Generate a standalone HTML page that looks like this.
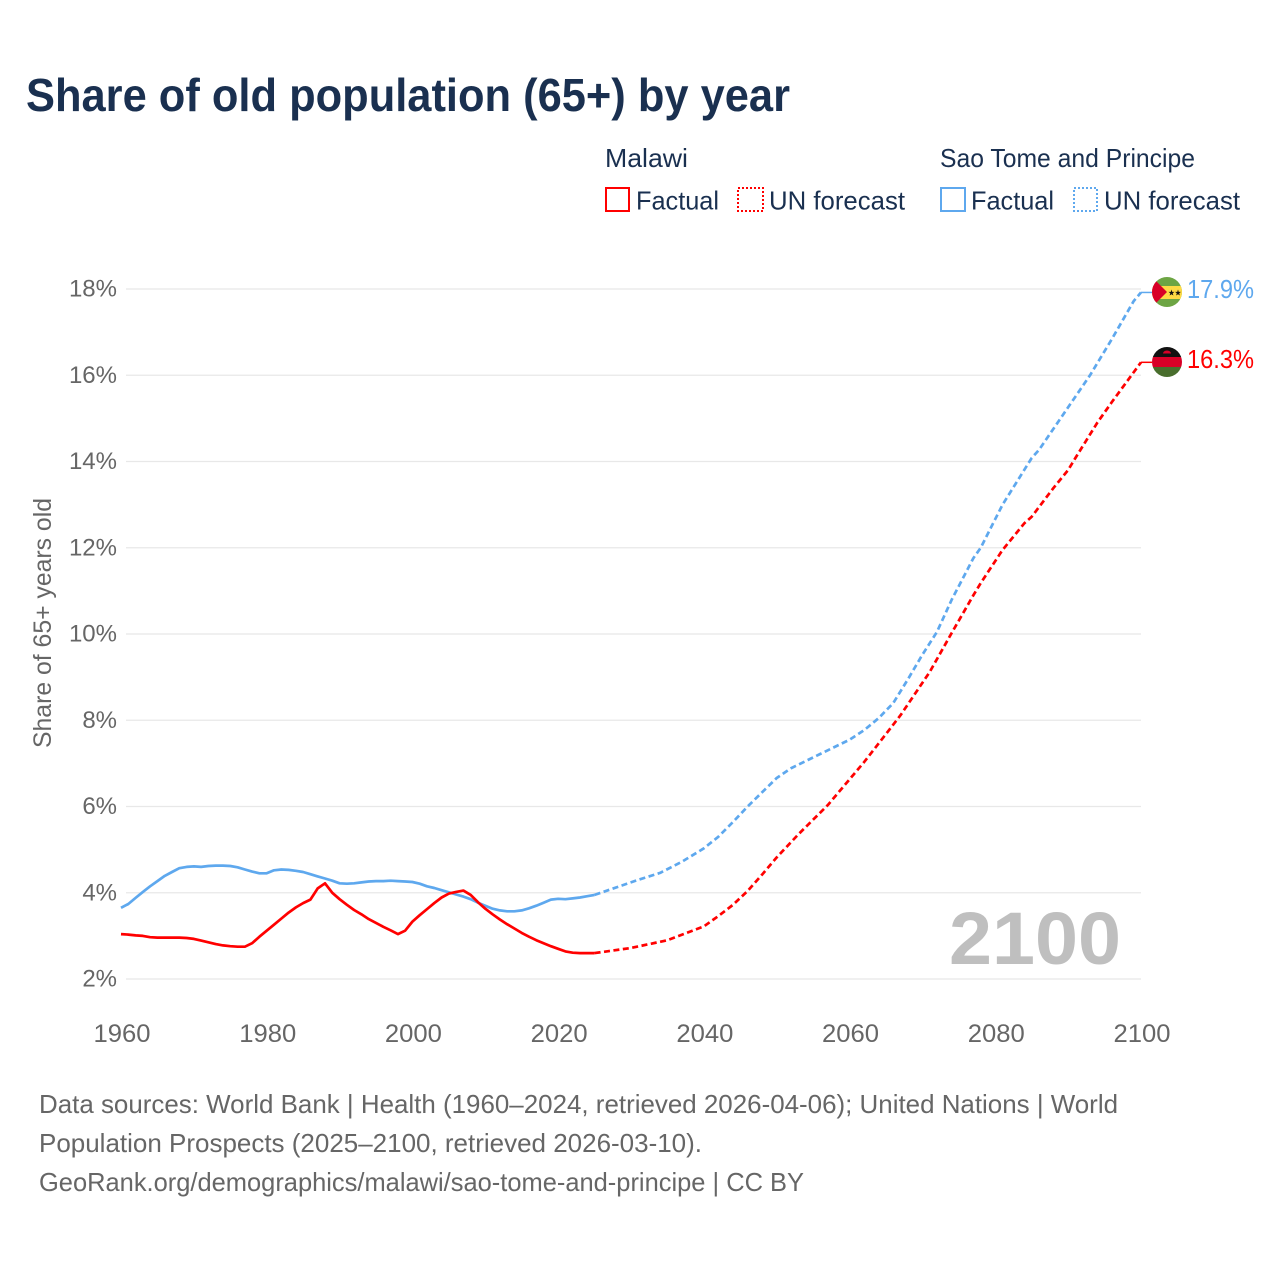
<!DOCTYPE html>
<html lang="en">
<head>
<meta charset="utf-8">
<title>Share of old population (65+) by year</title>
<style>
html,body{margin:0;padding:0;background:#fff;width:1280px;height:1280px;overflow:hidden}
svg{display:block}
text{font-family:"Liberation Sans",sans-serif}
</style>
</head>
<body>
<svg id="chart" xmlns="http://www.w3.org/2000/svg" width="1280" height="1280" viewBox="0 0 1280 1280">
<defs>
<clipPath id="clip-stp"><circle cx="1167" cy="292" r="15"/></clipPath>
<clipPath id="clip-mw"><circle cx="1167" cy="362" r="15"/></clipPath>
</defs>
<rect width="1280" height="1280" fill="#fff"/>
<text x="26" y="111" font-size="46" font-weight="700" fill="#1a3050" textLength="764" lengthAdjust="spacingAndGlyphs">Share of old population (65+) by year</text>

<g font-size="26" fill="#1a3050">
<text x="605" y="167" textLength="83" lengthAdjust="spacingAndGlyphs">Malawi</text>
<text x="940" y="167" textLength="255" lengthAdjust="spacingAndGlyphs">Sao Tome and Principe</text>
<rect x="606" y="188" width="23" height="23" fill="none" stroke="#ff0000" stroke-width="2"/>
<text x="636" y="209.500" textLength="83" lengthAdjust="spacingAndGlyphs">Factual</text>
<rect x="738" y="188" width="25" height="23" fill="none" stroke="#ff0000" stroke-width="2" stroke-dasharray="2 2"/>
<text x="769" y="209.500" textLength="136" lengthAdjust="spacingAndGlyphs">UN forecast</text>
<rect x="941" y="188" width="24" height="23" fill="none" stroke="#5ea8ee" stroke-width="2"/>
<text x="971" y="209.500" textLength="83" lengthAdjust="spacingAndGlyphs">Factual</text>
<rect x="1074" y="188" width="23" height="23" fill="none" stroke="#5ea8ee" stroke-width="2" stroke-dasharray="2 2"/>
<text x="1104" y="209.500" textLength="136" lengthAdjust="spacingAndGlyphs">UN forecast</text>
</g>

<g id="grid"></g>
<g id="yticks"></g>
<g id="xticks"></g>
<text transform="translate(51,623) rotate(-90)" text-anchor="middle" font-size="25" fill="#666" textLength="250" lengthAdjust="spacingAndGlyphs">Share of 65+ years old</text>
<text x="949" y="964" font-size="74" font-weight="700" fill="#bfbfbf" textLength="172" lengthAdjust="spacingAndGlyphs">2100</text>
<g id="series"></g>

<g clip-path="url(#clip-stp)">
<rect x="1152" y="277" width="30" height="30" fill="#6da544"/>
<rect x="1152" y="286" width="30" height="13" fill="#ffda44"/>
<polygon points="1152,277 1167,292 1152,307" fill="#d80027"/>
<polygon points="1171.500,289.500 1172.200,291.900 1174.500,291.900 1172.700,293.300 1173.400,295.500 1171.500,294.200 1169.600,295.500 1170.300,293.300 1168.500,291.900 1170.800,291.900" fill="#111"/>
<polygon points="1178,289.500 1178.700,291.900 1181,291.900 1179.200,293.300 1179.900,295.500 1178,294.200 1176.100,295.500 1176.800,293.300 1175,291.900 1177.300,291.900" fill="#111"/>
</g>
<g clip-path="url(#clip-mw)">
<rect x="1152" y="347" width="30" height="10" fill="#111"/>
<rect x="1152" y="357" width="30" height="10" fill="#d80027"/>
<rect x="1152" y="367" width="30" height="10" fill="#496e2d"/>
<path d="M1163 353.500a4 3 0 0 1 8 0z" fill="#d80027"/>
</g>
<text id="end-stp" x="1187" y="298" font-size="26" fill="#5ea8ee" textLength="67" lengthAdjust="spacingAndGlyphs">17.9%</text>
<text id="end-mw" x="1187" y="368" font-size="26" fill="#ff0000" textLength="67" lengthAdjust="spacingAndGlyphs">16.3%</text>

<g font-size="26" fill="#666">
<text x="39" y="1113" textLength="1079" lengthAdjust="spacingAndGlyphs">Data sources: World Bank | Health (1960–2024, retrieved 2026-04-06); United Nations | World</text>
<text x="39" y="1152" textLength="663" lengthAdjust="spacingAndGlyphs">Population Prospects (2025–2100, retrieved 2026-03-10).</text>
<text x="39" y="1191" textLength="765" lengthAdjust="spacingAndGlyphs">GeoRank.org/demographics/malawi/sao-tome-and-principe | CC BY</text>
</g>
</svg>
<script>
const factualYears = [1960,1961,1962,1963,1964,1965,1966,1967,1968,1969,1970,1971,1972,1973,1974,1975,1976,1977,1978,1979,1980,1981,1982,1983,1984,1985,1986,1987,1988,1989,1990,1991,1992,1993,1994,1995,1996,1997,1998,1999,2000,2001,2002,2003,2004,2005,2006,2007,2008,2009,2010,2011,2012,2013,2014,2015,2016,2017,2018,2019,2020,2021,2022,2023,2024,2025];
const malawiFactual = [3.04,3.03,3.01,3.0,2.97,2.96,2.96,2.96,2.96,2.95,2.93,2.89,2.85,2.81,2.78,2.76,2.75,2.75,2.83,2.98,3.12,3.26,3.4,3.54,3.66,3.76,3.84,4.1,4.22,4.0,3.85,3.72,3.6,3.5,3.39,3.3,3.21,3.13,3.04,3.12,3.33,3.48,3.62,3.76,3.89,3.98,4.02,4.05,3.95,3.78,3.63,3.5,3.38,3.27,3.17,3.07,2.98,2.9,2.83,2.76,2.7,2.64,2.61,2.6,2.6,2.6];
const saoTomeFactual = [3.65,3.74,3.88,4.02,4.15,4.27,4.39,4.48,4.57,4.6,4.61,4.6,4.62,4.63,4.63,4.62,4.59,4.54,4.49,4.45,4.45,4.52,4.54,4.53,4.51,4.48,4.43,4.38,4.33,4.28,4.22,4.21,4.22,4.24,4.26,4.27,4.27,4.28,4.27,4.26,4.25,4.21,4.15,4.11,4.06,4.01,3.96,3.91,3.85,3.77,3.7,3.63,3.59,3.57,3.57,3.59,3.64,3.7,3.77,3.84,3.86,3.85,3.87,3.89,3.92,3.95];
const malawiForecastYears = [2025,2030,2035,2040,2042,2044,2046,2048,2050,2053,2057,2062,2065,2067,2071,2074,2077,2078,2081,2084,2085,2088,2090,2091,2094,2096,2100];
const malawiForecast = [2.6,2.72,2.9,3.22,3.46,3.72,4.04,4.42,4.82,5.36,6.03,7.03,7.68,8.12,9.12,10.02,10.9,11.18,11.95,12.57,12.72,13.39,13.8,14.08,14.9,15.38,16.3];
const saoTomeForecastYears = [2025,2031,2034,2037,2040,2042,2044,2046,2050,2052,2056,2060,2062,2064,2066,2068,2070,2072,2074,2077,2078,2081,2085,2086,2093,2096,2099,2100];
const saoTomeForecast = [3.95,4.3,4.46,4.72,5.03,5.3,5.64,6.0,6.66,6.89,7.22,7.55,7.77,8.05,8.4,8.95,9.52,10.05,10.79,11.76,12.0,13.0,14.08,14.27,16.0,16.84,17.72,17.92];
const yTickValues = [2,4,6,8,10,12,14,16,18];
const xTickValues = [1960,1980,2000,2020,2040,2060,2080,2100];

const NS = 'http://www.w3.org/2000/svg';
function xScale(year){ return 121 + (year - 1960) * 1020 / 140; }
function yScale(v){ return 979 - (v - 2) * 690 / 16; }
function pathFrom(years, vals){
  return years.map(function(yr, i){ return (i ? 'L' : 'M') + xScale(yr).toFixed(1) + ' ' + yScale(vals[i]).toFixed(1); }).join(' ');
}

const grid = document.getElementById('grid');
const yticks = document.getElementById('yticks');
yTickValues.forEach(function(v){
  const line = document.createElementNS(NS, 'line');
  
  
  line.setAttribute('x1', 126);
  line.setAttribute('x2', 1141);
  line.setAttribute('y1', yScale(v));
  line.setAttribute('y2', yScale(v));
  line.setAttribute('stroke', '#e8e8e8');
  line.setAttribute('stroke-width', '1.300');
  grid.appendChild(line);
  const t = document.createElementNS(NS, 'text');
  
  
  t.setAttribute('x', 117);
  t.setAttribute('y', yScale(v) + 7.5);
  t.setAttribute('text-anchor', 'end');
  t.setAttribute('font-size', '24');
  t.setAttribute('fill', '#666');
  t.textContent = v + '%';
  yticks.appendChild(t);
});

const xticks = document.getElementById('xticks');
xTickValues.forEach(function(yr){
  const t = document.createElementNS(NS, 'text');
  
  
  t.setAttribute('x', xScale(yr) + 1);
  t.setAttribute('y', 1042);
  t.setAttribute('text-anchor', 'middle');
  t.setAttribute('font-size', '25');
  t.setAttribute('fill', '#666');
  t.setAttribute('textLength', '57');
  t.setAttribute('lengthAdjust', 'spacingAndGlyphs');
  t.textContent = yr;
  xticks.appendChild(t);
});

const series = document.getElementById('series');
function addLine(name, d, color, dash, width){
  const p = document.createElementNS(NS, 'path');
  
  
  p.setAttribute('d', d);
  p.setAttribute('fill', 'none');
  p.setAttribute('stroke', color);
  p.setAttribute('stroke-width', width);
  p.setAttribute('stroke-linejoin', 'round');
  if (dash) p.setAttribute('stroke-dasharray', dash);
  series.appendChild(p);
}
addLine('line-sao-tome-factual', pathFrom(factualYears, saoTomeFactual), '#5ea8ee', null, '2.700');
addLine('line-malawi-factual', pathFrom(factualYears, malawiFactual), '#ff0000', null, '2.700');
addLine('line-sao-tome-forecast', pathFrom(saoTomeForecastYears, saoTomeForecast), '#5ea8ee', '6 3.500', '2.700');
addLine('line-malawi-forecast', pathFrom(malawiForecastYears, malawiForecast), '#ff0000', '6 3.500', '2.700');
const lastStp = saoTomeForecast[saoTomeForecast.length - 1];
const lastMw = malawiForecast[malawiForecast.length - 1];
addLine('leader-sao-tome', 'M' + xScale(2100) + ' ' + yScale(lastStp) + ' H1152', '#5ea8ee', null, '1.500');
addLine('leader-malawi', 'M' + xScale(2100) + ' ' + yScale(lastMw) + ' H1152', '#ff0000', null, '1.500');
</script>
</body>
</html>
